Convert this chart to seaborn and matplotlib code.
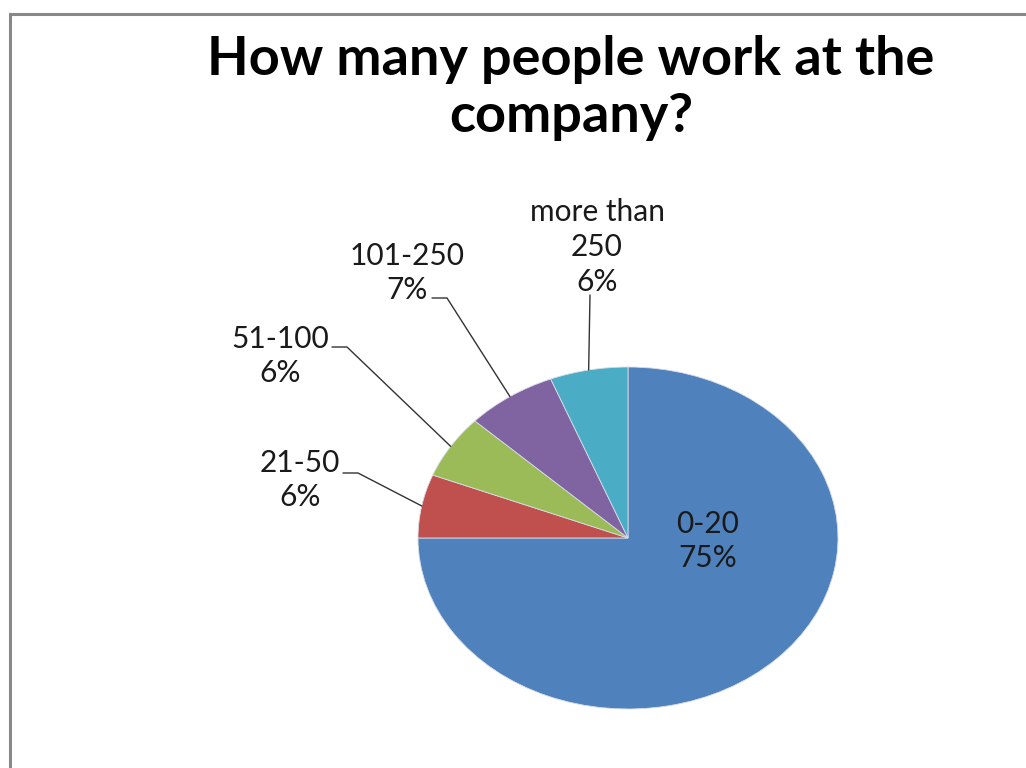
import matplotlib
matplotlib.use("Agg")
import matplotlib.pyplot as plt
import seaborn as sns
import numpy as np
from matplotlib.lines import Line2D

categories = ["0-20", "21-50", "51-100", "101-250", "more than\n250"]
percents = [75, 6, 6, 7, 6]
colors = ["#4F81BD", "#C0504D", "#9BBB59", "#8064A2", "#4BACC6"]
title = "How many people work at the\ncompany?"

sns.set_theme(style="white")
plt.rcParams["font.family"] = ["Lato", "DejaVu Sans"]

W, H = 1026, 768
fig = plt.figure(figsize=(W / 100, H / 100), dpi=100)
fig.patch.set_facecolor("white")

# pie ellipse: center (628,538) px, rx 210, ry 171
cx, cy, rx, ry = 628, 538, 210, 171
ax = fig.add_axes([(cx - rx) / W, (H - cy - ry) / H, 2 * rx / W, 2 * ry / H])
pal = sns.color_palette(colors)
wedges, _ = ax.pie(percents, colors=pal, startangle=90, counterclock=False,
                   radius=1, wedgeprops=dict(edgecolor="#d8dde6", linewidth=0.6))
ax.set_aspect("auto")
ax.set_xlim(-1, 1)
ax.set_ylim(-1, 1)
ax.axis("off")

def px2d(px, py):
    return ((px - cx) / rx, (cy - py) / ry)

# label layout (pixel positions): text center, elbow, horizontal end
layout = {
    1: dict(text=(300, 480), elbow=(358, 473), end=(343, 473)),
    2: dict(text=(280, 356), elbow=(347, 347), end=(332, 347)),
    3: dict(text=(407, 273), elbow=(447, 298), end=(432, 298)),
    4: dict(text=(597, 247), elbow=(590, 295), end=None),
}

lab_fs = 21.5
ls = 1.3
for i, w in enumerate(wedges):
    mid = np.deg2rad((w.theta1 + w.theta2) / 2)
    ex, ey = np.cos(mid), np.sin(mid)
    label = f"{categories[i]}\n{percents[i]}%"
    if i == 0:
        tx, ty = px2d(708, 541)
        ax.text(tx, ty, label, ha="center", va="center", fontsize=lab_fs,
                color="#1a1a1a", linespacing=ls)
        continue
    L = layout[i]
    ex2, ey2 = px2d(*L["elbow"])
    xs, ys = [ex, ex2], [ey, ey2]
    if L["end"] is not None:
        hx, hy = px2d(*L["end"])
        xs.append(hx); ys.append(hy)
    ax.plot(xs, ys, color="#333333", lw=1.0, clip_on=False)
    tx, ty = px2d(*L["text"])
    ax.text(tx, ty, label, ha="center", va="center", fontsize=lab_fs,
            color="#1a1a1a", linespacing=ls)

fig.text(571 / W, 1 - 88 / H, title, ha="center", va="center",
         fontsize=39, fontweight="bold", color="black", linespacing=1.22)

# partial frame (left and top)
fx, fy = 9.5 / W, 1 - 13.5 / H
fig.add_artist(Line2D([fx, fx, 1.0], [0, fy, fy], transform=fig.transFigure,
                      color="#888888", lw=2.2, solid_joinstyle="miter"))

fig.savefig("out.png", dpi=100, facecolor="white")
